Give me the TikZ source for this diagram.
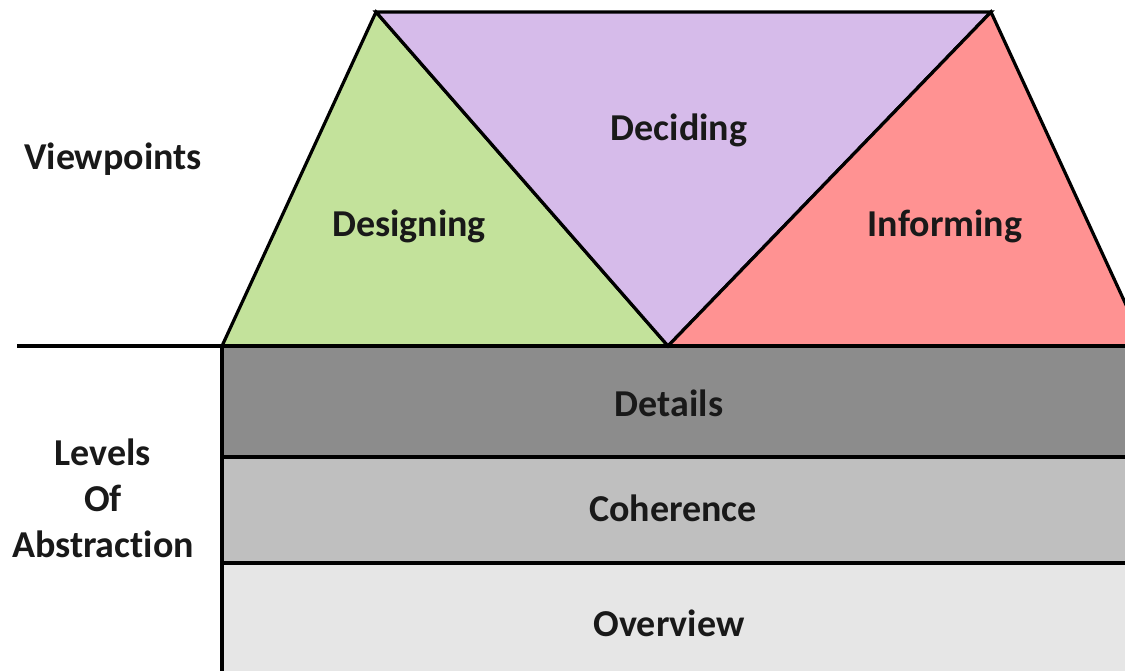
\documentclass[tikz,border=0pt]{standalone}
\usepackage{fontspec}
\setmainfont{Carlito}[RawFeature=-liga]
\begin{document}
\begin{tikzpicture}[x=1pt,y=-1pt,
  lbl/.style={font=\bfseries\fontsize{38}{46}\selectfont, text=black!90, align=center, inner sep=0pt},
  outl/.style={draw=black, line width=3.2pt, line join=miter}]
\definecolor{cgreen}{RGB}{195,226,155}
\definecolor{cpurple}{RGB}{214,187,234}
\definecolor{cred}{RGB}{255,146,146}
\definecolor{cdet}{RGB}{140,140,140}
\definecolor{ccoh}{RGB}{191,191,191}
\definecolor{cover}{RGB}{230,230,230}
\useasboundingbox (0,0) rectangle (1125,671);
\begin{scope}
\clip (0,0) rectangle (1125,671);
\coordinate (bl) at (222,346);
\coordinate (tl) at (376,12);
\coordinate (tr) at (991,12);
\coordinate (bm) at (668,346);
\coordinate (br) at (1145,346);
\fill[cdet] (222,346) rectangle (1140,457);
\fill[ccoh] (222,457) rectangle (1140,563);
\fill[cover] (222,563) rectangle (1140,680);
\draw[outl] (222,457) -- (1140,457);
\draw[outl] (222,563) -- (1140,563);
\draw[outl] (222,346) -- (222,680);
\filldraw[outl, fill=cgreen] (bl) -- (tl) -- (bm) -- cycle;
\filldraw[outl, fill=cpurple] (tl) -- (tr) -- (bm) -- cycle;
\filldraw[outl, fill=cred] (bm) -- (tr) -- (br) -- cycle;
\coordinate (ll) at (17,346);
\coordinate (lr) at (1140,346);
\draw[outl] (ll) -- (lr);
\end{scope}
\node[lbl] (vp) at (113,159) {Viewpoints};
\node[lbl] (des) at (409,226) {Designing};
\node[lbl] (dec) at (679,130) {Deciding};
\node[lbl] (inf) at (945,226) {Informing};
\node[lbl] (det) at (669,403) {Details};
\node[lbl] (coh) at (673,508) {Coherence};
\node[lbl] (ov) at (669,623) {Overview};
\node[lbl] (loa) at (103,498) {Levels\\Of\\Abstraction};
\end{tikzpicture}
\end{document}
